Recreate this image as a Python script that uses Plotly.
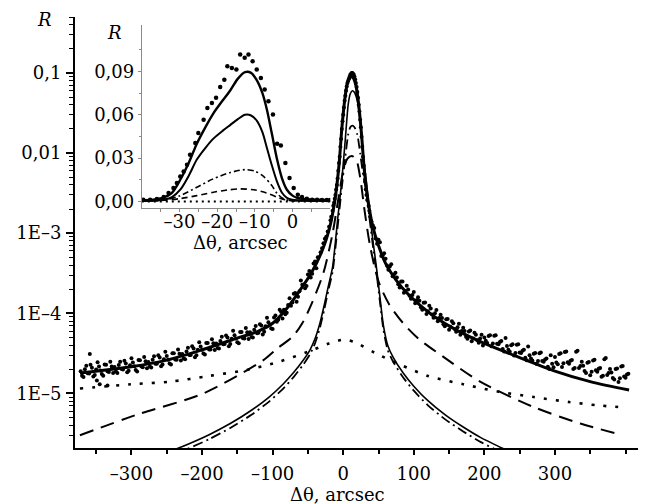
import plotly.graph_objects as go

# ---------------- main panel data (Δθ in arcsec, R) ----------------
exp_x = [-372, -368, -364, -360, -356, -352, -348, -344, -340, -336, -332, -328,
         -324, -320, -316, -312, -308, -304, -300, -296, -292, -288, -284, -280,
         -276, -272, -268, -264, -260, -256, -252, -248, -244, -240, -236, -232,
         -228, -224, -220, -216, -212, -208, -204, -200, -196, -192, -188, -184,
         -180, -176, -172, -168, -164, -160, -156, -152, -148, -144, -140, -136,
         -132, -128, -124, -120, -116, -112, -108, -104, -100, -96, -92, -88,
         -84, -80, -76, -72, -68, -64, -60, -56, -52, -48, -44, -40,
         -36, -32, -28, -24, -20, -17, -14, -12, -10, -8, -6, -4, -2, 0, 2, 4, 6, 8,
         10, 12, 14, 16, 18, 20, 22, 24, 26, 28, 30, 32, 34, 37, 40,
         44, 48, 52, 56, 60, 64, 68, 72, 76, 80, 84, 88, 92, 96, 100, 104,
         108, 112, 116, 120, 124, 128, 132, 136, 140, 144, 148, 152, 156, 160,
         164, 168, 172, 176, 180, 184, 188, 192, 196, 200, 204, 208, 212, 216,
         220, 224, 228, 232, 236, 240, 244, 248, 252, 256, 260, 264, 268, 272,
         276, 280, 284, 288, 292, 296, 300, 304, 308, 312, 316, 320, 324, 328,
         332, 336, 340, 344, 348, 352, 356, 360, 364, 368, 372, 376, 380, 384,
         388, 392, 396, 400, 404,
         -359, -345, -334, -349]
exp_r = [1.89e-5, 1.60e-5, 2.21e-5, 1.77e-5, 2.09e-5, 1.70e-5, 2.44e-5, 1.93e-5, 1.66e-5, 2.27e-5, 1.85e-5, 2.17e-5,
         2.13e-5, 1.80e-5, 2.48e-5, 1.99e-5, 2.36e-5, 1.92e-5, 2.75e-5, 2.18e-5, 1.88e-5, 2.59e-5, 2.12e-5, 2.51e-5,
         2.47e-5, 2.10e-5, 2.90e-5, 2.34e-5, 2.80e-5, 2.29e-5, 3.30e-5, 2.62e-5, 2.29e-5, 3.16e-5, 2.62e-5, 3.12e-5,
         3.11e-5, 2.67e-5, 3.72e-5, 3.01e-5, 3.64e-5, 3.00e-5, 4.36e-5, 3.50e-5, 3.06e-5, 4.24e-5, 3.52e-5, 4.21e-5,
         4.20e-5, 3.62e-5, 5.08e-5, 4.12e-5, 5.00e-5, 4.12e-5, 6.03e-5, 4.84e-5, 4.21e-5, 5.84e-5, 4.85e-5, 5.79e-5,
         5.78e-5, 4.97e-5, 6.96e-5, 5.70e-5, 7.02e-5, 5.90e-5, 8.78e-5, 7.17e-5, 6.38e-5, 9.40e-5, 8.28e-5, 1.048e-4,
         1.109e-4, 1.012e-4, 1.542e-4, 1.363e-4, 1.792e-4, 1.611e-4, 2.57e-4, 2.28e-4, 2.19e-4, 3.36e-4, 3.12e-4, 4.43e-4,
         5.0e-4, 5.8e-4, 7.5e-4, 9.0e-4, 1.2e-3, 1.6e-3, 2.2e-3, 2.7e-3, 3.5e-3, 4.8e-3, 7.5e-3, 1.2e-2, 2.0e-2, 3.0e-2, 4.5e-2, 6.0e-2, 7.5e-2, 8.5e-2,
         9.5e-2, 0.100, 0.098, 0.090, 0.075, 0.058, 0.040, 0.026, 0.016, 9.0e-3, 5.5e-3, 3.5e-3, 2.6e-3, 1.9e-3, 1.4e-3,
         1.16e-3, 7.4e-4, 7.7e-4, 5.3e-4, 4.8e-4, 3.5e-4, 4.1e-4, 3.05e-4, 2.8e-4, 2.1e-4, 2.5e-4, 1.9e-4, 1.98e-4, 1.52e-4, 1.85e-4, 1.45e-4,
         1.43e-4, 1.11e-4, 1.36e-4, 1.06e-4, 1.15e-4, 8.8e-5, 1.10e-4, 8.7e-5, 8.7e-5, 6.9e-5, 8.5e-5, 6.8e-5, 7.5e-5, 5.9e-5,
         7.4e-5, 6.0e-5, 6.0e-5, 4.8e-5, 6.1e-5, 4.85e-5, 5.4e-5, 4.3e-5, 5.4e-5, 5.0e-5, 4.26e-5, 5.3e-5, 4.2e-5, 5.3e-5,
         4.1e-5, 4.5e-5, 3.34e-5, 3.9e-5, 3.3e-5, 4.1e-5, 3.2e-5, 4.1e-5, 3.2e-5, 3.5e-5, 2.6e-5, 3.0e-5, 2.57e-5, 3.2e-5,
         2.53e-5, 3.23e-5, 2.48e-5, 2.72e-5, 2.02e-5, 2.35e-5, 2.85e-5, 2.31e-5, 3.17e-5, 2.38e-5, 3.33e-5, 2.34e-5, 2.61e-5, 2.07e-5,
         3.41e-5, 2.19e-5, 2.22e-5, 1.8e-5, 2.47e-5, 1.86e-5, 2.63e-5, 1.86e-5, 2.08e-5, 1.66e-5, 2.77e-5, 1.8e-5, 1.82e-5, 1.49e-5,
         2.05e-5, 1.55e-5, 2.2e-5, 1.57e-5, 1.76e-5,
         3.1e-5, 1.3e-5, 1.25e-5, 1.45e-5]

exp2_x = [-370, -366, -362, -358, -354, -350, -346, -342, -338, -334, -330, -326,
          -322, -318, -314, -310, -306, -302, -298, -294, -290, -286, -282, -278,
          -274, -270, -266, -262, -258, -254, -250, -246, -242, -238, -234, -230,
          -226, -222, -218, -214, -210, -206, -202, -198, -194, -190, -186, -182,
          -178, -174, -170, -166, -162, -158, -154, -150, -146, -142, -138, -134,
          -130, -126, -122, -118, -114, -110, -106, -102, -98, -94, -90, -86,
          -82, -78, -74, -70, -66, -62, -58, -54, -50, -46, -42, -38,
          -30, -26, -22, -18, -15, -13, -11, -9, -7, -5, -3, -1, 1, 3, 5, 7, 9, 11,
          13, 15, 17, 19, 21, 23, 25, 27, 29, 31, 33, 36, 38, 42,
          46, 50, 54, 58, 62, 66, 70, 74, 78, 82, 86, 90, 94, 98, 102, 106,
          110, 114, 118, 122, 126, 130, 134, 138, 142, 146, 150, 154, 158, 162,
          166, 170, 174, 178, 182, 186, 190, 194, 198, 202, 206, 210, 214, 218,
          222, 226, 230, 234, 238, 242, 246, 250, 254, 258, 262, 266, 270, 274,
          278, 282, 286, 290, 294, 298, 302, 306, 310, 314, 318, 322, 326, 330,
          334, 338, 342, 346, 350, 354, 358, 362, 366, 370, 374, 378, 382, 386,
          390, 394, 398, 402]
exp2_r = [1.66e-5, 2.00e-5, 1.78e-5, 2.27e-5, 1.63e-5, 1.98e-5, 2.16e-5, 1.74e-5, 2.30e-5, 1.89e-5, 2.49e-5, 1.79e-5,
          1.87e-5, 2.26e-5, 2.01e-5, 2.55e-5, 1.84e-5, 2.24e-5, 2.43e-5, 1.96e-5, 2.61e-5, 2.16e-5, 2.85e-5, 2.06e-5,
          2.16e-5, 2.63e-5, 2.35e-5, 3.00e-5, 2.18e-5, 2.67e-5, 2.92e-5, 2.36e-5, 3.17e-5, 2.64e-5, 3.53e-5, 2.57e-5,
          2.72e-5, 3.33e-5, 3.01e-5, 3.87e-5, 2.83e-5, 3.50e-5, 3.85e-5, 3.15e-5, 4.25e-5, 3.54e-5, 4.74e-5, 3.47e-5,
          3.68e-5, 4.52e-5, 4.10e-5, 5.29e-5, 3.88e-5, 4.81e-5, 5.32e-5, 4.36e-5, 5.84e-5, 4.88e-5, 6.53e-5, 4.77e-5,
          5.06e-5, 6.22e-5, 5.63e-5, 7.32e-5, 5.45e-5, 6.89e-5, 7.75e-5, 6.45e-5, 8.85e-5, 7.84e-5, 1.11e-4, 8.63e-5,
          9.72e-5, 1.265e-4, 1.246e-4, 1.75e-4, 1.39e-4, 1.88e-4, 2.27e-4, 2.05e-4, 3.04e-4, 2.80e-4, 4.19e-4, 3.65e-4,
          6.5e-4, 8.5e-4, 1.05e-3, 1.45e-3, 1.9e-3, 2.4e-3, 3.0e-3, 4.0e-3, 6.0e-3, 9.0e-3, 1.5e-2, 2.5e-2, 3.7e-2, 5.2e-2, 6.8e-2, 8.0e-2, 9.0e-2, 9.7e-2,
          0.100, 0.095, 0.083, 0.067, 0.049, 0.033, 0.021, 0.012, 7.0e-3, 4.4e-3, 3.0e-3, 2.2e-3, 1.6e-3, 1.25e-3,
          8.6e-4, 8.3e-4, 5.2e-4, 5.6e-4, 3.95e-4, 3.85e-4, 2.9e-4, 3.2e-4, 2.3e-4, 2.5e-4, 1.8e-4, 2.2e-4, 1.66e-4, 1.69e-4, 1.33e-4, 1.58e-4,
          1.19e-4, 1.35e-4, 9.8e-5, 1.24e-4, 9.65e-5, 1.0e-4, 7.95e-5, 9.56e-5, 7.3e-5, 8.4e-5, 6.25e-5, 7.98e-5, 6.35e-5, 6.68e-5,
          5.41e-5, 6.58e-5, 5.09e-5, 5.92e-5, 4.46e-5, 5.73e-5, 4.6e-5, 4.86e-5, 3.97e-5, 4.54e-5, 5.2e-5, 3.87e-5, 5.24e-5, 4.16e-5,
          4.38e-5, 3.57e-5, 4.92e-5, 3.5e-5, 4.0e-5, 2.98e-5, 4.06e-5, 3.23e-5, 3.41e-5, 2.78e-5, 3.84e-5, 2.73e-5, 3.13e-5, 2.33e-5,
          3.16e-5, 2.53e-5, 2.65e-5, 2.15e-5, 2.99e-5, 2.12e-5, 2.43e-5, 3.11e-5, 2.14e-5, 3.29e-5, 2.45e-5, 2.56e-5, 2.01e-5, 3.30e-5,
          2.07e-5, 2.48e-5, 1.90e-5, 2.41e-5, 1.68e-5, 2.58e-5, 1.94e-5, 2.03e-5, 1.61e-5, 2.67e-5, 1.69e-5, 2.01e-5, 1.56e-5, 2.01e-5,
          1.39e-5, 2.17e-5, 1.62e-5, 1.72e-5]

fit_x = [-373, -300, -250, -200, -150, -120, -100, -80, -61, -45, -30, -20, -12, -6, -2, 2, 6, 10, 12, 14,
         18, 22, 26, 30, 35, 42, 50, 60, 75, 90, 105, 130, 160, 200, 250, 300, 350, 405]
fit_r = [1.8e-5, 2.15e-5, 2.6e-5, 3.5e-5, 4.9e-5, 6.0e-5, 7.5e-5, 1.15e-4, 1.95e-4, 3.2e-4, 6.0e-4, 1.1e-3,
         2.5e-3, 7e-3, 0.02, 0.045, 0.075, 0.088, 0.09, 0.088, 0.07, 0.04, 0.017, 6e-3, 2.6e-3, 1.2e-3, 7e-4,
         4.2e-4, 2.6e-4, 1.8e-4, 1.35e-4, 9e-5, 6.2e-5, 4.2e-5, 2.8e-5, 1.9e-5, 1.4e-5, 1.1e-5]

coh_x = [-265, -248, -220, -190, -160, -130, -105, -85, -70, -57, -47, -40, -33, -27, -21, -15, -7.5, -2.3,
         3, 7, 10, 13, 16, 20, 24, 28, 33, 38, 43, 47, 52, 57, 63, 71, 85, 100, 120, 145, 170, 195, 220, 240]
coh_r = [1.63e-6, 1.85e-6, 2.32e-6, 3.05e-6, 4.2e-6, 6.15e-6, 9.0e-6, 1.31e-5, 1.83e-5, 2.57e-5, 3.5e-5,
         4.8e-5, 7.5e-5, 1.25e-4, 2.2e-4, 3.8e-4, 1.6e-3, 4.25e-3, 0.015, 0.04, 0.055, 0.06, 0.057, 0.045,
         0.025, 0.01, 4.25e-3, 1.6e-3, 7e-4, 3.8e-4, 1.6e-4, 7e-5, 4.0e-5, 2.8e-5, 1.8e-5, 1.23e-5, 8.1e-6,
         5.35e-6, 3.8e-6, 2.8e-6, 2.18e-6, 1.81e-6]

dd_x = coh_x
dd_r = [1.43e-6, 1.63e-6, 2.04e-6, 2.68e-6, 3.7e-6, 5.4e-6, 7.9e-6, 1.15e-5, 1.61e-5, 2.26e-5, 3.08e-5,
        4.2e-5, 6.6e-5, 1.1e-4, 1.94e-4, 3.3e-4, 1.3e-3, 3.5e-3, 9e-3, 0.017, 0.021, 0.022, 0.021, 0.017,
        0.01, 5.5e-3, 3.2e-3, 1.35e-3, 6e-4, 3.3e-4, 1.4e-4, 6.2e-5, 3.5e-5, 2.46e-5, 1.58e-5, 1.08e-5,
        7.1e-6, 4.7e-6, 3.35e-6, 2.46e-6, 1.92e-6, 1.6e-6]

dash_x = [-373, -293, -198, -113, -94, -71, -58, -45, -28, -15, -6, 0, 6, 12, 18, 24, 30, 38, 50, 65, 85,
          108, 141, 194, 269, 336, 390]
dash_r = [3.0e-6, 5.4e-6, 1.0e-5, 2.6e-5, 3.6e-5, 5.2e-5, 7.5e-5, 1.3e-4, 3.2e-4, 1.0e-3, 3e-3, 6e-3, 8.5e-3,
          9.2e-3, 8.5e-3, 5e-3, 2e-3, 7e-4, 2.5e-4, 1.3e-4, 7.5e-5, 4.7e-5, 2.9e-5, 1.4e-5, 6.8e-6,
          4.2e-6, 3.1e-6]

dot_x = [-373, -300, -245, -190, -132, -90, -50, -20, 2, 20, 45, 80, 120, 170, 220, 270, 320, 360, 395]
dot_r = [1.15e-5, 1.3e-5, 1.4e-5, 1.65e-5, 2.0e-5, 2.5e-5, 3.3e-5, 4.2e-5, 4.7e-5, 4.2e-5, 3.2e-5,
         2.3e-5, 1.65e-5, 1.3e-5, 1.05e-5, 9.0e-6, 7.8e-6, 7.1e-6, 6.7e-6]

# ---------------- inset data (linear scale) ----------------
in_exp_x = [-39.6, -37.8, -36.0, -34.2, -32.9, -31.6, -30.7, -29.8, -28.9, -28.0, -27.2, -25.8,
            -25.0, -23.6, -22.6, -21.4, -20.3, -19.2, -18.1, -17.3, -16.1, -14.9, -13.9, -12.7,
            -11.7, -10.6, -9.5, -8.4, -7.4, -6.4, -5.2, -4.1, -3.1, -1.9, -0.8, 0.3, 1.4, 2.5,
            3.8, 5.2, 6.5, 7.8, 9.1, 10.0]
in_exp_r = [0.0012, 0.0012, 0.0017, 0.0030, 0.0058, 0.0093, 0.0127, 0.0173, 0.0208, 0.0254, 0.0324,
            0.0405, 0.0474, 0.0566, 0.0647, 0.0682, 0.0717, 0.0793, 0.0843, 0.0936, 0.0924, 0.0913,
            0.1017, 0.0994, 0.1017, 0.0970, 0.0913, 0.0855, 0.0774, 0.0693, 0.0601, 0.0400, 0.0388,
            0.0266, 0.0162, 0.0093, 0.0046, 0.0030, 0.0019, 0.0012, 0.0012, 0.0010, 0.0010, 0.0010]

in_fit_x = [-40, -37, -34.3, -32, -29.8, -27.5, -25.4, -23, -21, -18.5, -16.5, -14.5, -12.6, -11, -9.5,
            -8, -6.8, -5.5, -4.1, -2.8, -1.5, 0, 1.2, 4, 10]
in_fit_r = [0.0008, 0.0012, 0.0026, 0.006, 0.015, 0.027, 0.040, 0.052, 0.061, 0.070, 0.077, 0.085,
            0.0895, 0.089, 0.084, 0.075, 0.0635, 0.047, 0.029, 0.016, 0.0081, 0.004, 0.0025, 0.0015, 0.001]

in_coh_x = [-40, -36, -34, -32, -29.8, -27.5, -25.4, -23, -21, -18.5, -16.5, -14.5, -12.6, -11, -9.5,
            -8, -6.8, -5.5, -4.1, -2.8, -1.5, 0, 3, 10]
in_coh_r = [0.0005, 0.0008, 0.0013, 0.003, 0.0081, 0.018, 0.029, 0.0375, 0.0435, 0.049, 0.053, 0.057,
            0.060, 0.0595, 0.056, 0.048, 0.037, 0.025, 0.0135, 0.006, 0.0025, 0.0012, 0.0007, 0.0005]

in_dd_x = [-40, -34, -29.8, -25.4, -21, -16.5, -12.6, -10, -7.7, -5.5, -4.1, -2.5, -1, 3, 10]
in_dd_r = [0.0003, 0.001, 0.004, 0.0098, 0.0157, 0.020, 0.022, 0.021, 0.0173, 0.011, 0.0055, 0.002,
           0.0007, 0.0003, 0.0002]

in_dash_x = [-40, -34, -29.8, -25.4, -21, -17, -14, -11, -9.5, -6.5, -4.1, -2, 0, 5, 10]
in_dash_r = [0.0002, 0.0008, 0.002, 0.004, 0.0064, 0.008, 0.0087, 0.0083, 0.0077, 0.0055, 0.003,
             0.0012, 0.0005, 0.0002, 0.0002]

in_dot_x = [-40, -20, -10, 0, 10]
in_dot_r = [4e-5, 4.5e-5, 5e-5, 4.5e-5, 4e-5]

# tick labels
x_major = [-300, -200, -100, 0, 100, 200, 300]
x_major_text = ["\u2013300", "\u2013200", "\u2013100", "0", "100", "200", "300"]
x_minor = [-350, -250, -150, -50, 50, 150, 250, 350, 400]
y_major = [1e-5, 1e-4, 1e-3, 1e-2, 1e-1]
y_major_text = ["1E\u20135", "1E\u20134", "1E\u20133", "0,01", "0,1"]
y_minor = [m * 10.0 ** e for e in range(-6, 0) for m in range(2, 10) if 2.08e-6 <= m * 10.0 ** e <= 0.5]
ix_major = [-30, -20, -10, 0]
ix_major_text = ["\u201330", "\u201320", "\u201310", "0"]
ix_minor = [-35, -25, -15, -5, 5]
iy_major = [0.0, 0.03, 0.06, 0.09]
iy_major_text = ["0,00", "0,03", "0,06", "0,09"]
iy_minor = [0.015, 0.045, 0.075, 0.105]

FONT = "DejaVu Serif"
FS = 18
fig = go.Figure()

# main panel
fig.add_trace(go.Scatter(x=exp_x, y=exp_r, mode="markers", marker=dict(color="black", size=4)))
fig.add_trace(go.Scatter(x=exp2_x, y=exp2_r, mode="markers", marker=dict(color="black", size=4)))
fig.add_trace(go.Scatter(x=dot_x, y=dot_r, mode="lines", line=dict(color="black", width=2.6, dash="3px,9px", shape="spline", smoothing=0.8)))
fig.add_trace(go.Scatter(x=dash_x, y=dash_r, mode="lines", line=dict(color="black", width=2, dash="14px,8px", shape="spline", smoothing=0.8)))
fig.add_trace(go.Scatter(x=dd_x, y=dd_r, mode="lines", line=dict(color="black", width=1.8, dash="10px,4px,2px,4px", shape="spline", smoothing=0.6)))
fig.add_trace(go.Scatter(x=coh_x, y=coh_r, mode="lines", line=dict(color="black", width=1.6, shape="spline", smoothing=0.6)))
fig.add_trace(go.Scatter(x=fit_x, y=fit_r, mode="lines", line=dict(color="black", width=3, shape="spline", smoothing=0.8)))

# inset
fig.add_trace(go.Scatter(x=in_exp_x, y=in_exp_r, mode="markers", marker=dict(color="black", size=4.5), xaxis="x2", yaxis="y2"))
fig.add_trace(go.Scatter(x=in_dot_x, y=in_dot_r, mode="lines", line=dict(color="black", width=2, dash="2px,4px"), xaxis="x2", yaxis="y2"))
fig.add_trace(go.Scatter(x=in_dash_x, y=in_dash_r, mode="lines", line=dict(color="black", width=1.6, dash="6px,4px", shape="spline", smoothing=0.8), xaxis="x2", yaxis="y2"))
fig.add_trace(go.Scatter(x=in_dd_x, y=in_dd_r, mode="lines", line=dict(color="black", width=1.6, dash="6px,3px,2px,3px", shape="spline", smoothing=0.8), xaxis="x2", yaxis="y2"))
fig.add_trace(go.Scatter(x=in_coh_x, y=in_coh_r, mode="lines", line=dict(color="black", width=2, shape="spline", smoothing=0.8), xaxis="x2", yaxis="y2"))
fig.add_trace(go.Scatter(x=in_fit_x, y=in_fit_r, mode="lines", line=dict(color="black", width=2.4, shape="spline", smoothing=0.8), xaxis="x2", yaxis="y2"))

# the page body adds an 8px margin, so the figure is 8px smaller on each side
fig.update_layout(
    width=638, height=496, showlegend=False,
    paper_bgcolor="white", plot_bgcolor="white",
    margin=dict(l=67, r=0, t=9, b=56),
    font=dict(family=FONT, size=FS, color="black"),
    xaxis=dict(domain=[0, 1], range=[-380, 429], showgrid=False, zeroline=False,
               showline=True, linecolor="black", linewidth=2,
               tickmode="array", tickvals=x_major, ticktext=x_major_text,
               ticks="outside", ticklen=5, tickwidth=1.6, tickcolor="black",
               ticklabelstandoff=3,
               minor=dict(tickmode="array", tickvals=x_minor, ticks="outside", ticklen=4,
                          tickwidth=1.6, tickcolor="black", showgrid=False)),
    yaxis=dict(domain=[0, 1], type="log", range=[-5.682, -0.301], showgrid=False, zeroline=False,
               showline=True, linecolor="black", linewidth=2,
               tickmode="array", tickvals=y_major, ticktext=y_major_text,
               ticks="outside", ticklen=7, tickwidth=1.6, tickcolor="black", ticklabelstandoff=1,
               minor=dict(tickmode="array", tickvals=y_minor, ticks="outside", ticklen=4,
                          tickwidth=1.2, tickcolor="black", showgrid=False)),
    xaxis2=dict(domain=[0.117, 0.447], anchor="y2", range=[-40, 10], showgrid=False, zeroline=False,
                showline=True, linecolor="#8a8a8a", linewidth=1,
                tickmode="array", tickvals=ix_major, ticktext=ix_major_text,
                ticks="outside", ticklen=3, tickwidth=1, tickcolor="#8a8a8a", ticklabelstandoff=-6,
                minor=dict(tickmode="array", tickvals=ix_minor, ticks="outside", ticklen=3,
                           tickwidth=1, tickcolor="#8a8a8a", showgrid=False)),
    yaxis2=dict(domain=[0.557, 0.981], anchor="x2", range=[-0.0045, 0.122], showgrid=False, zeroline=False,
                showline=True, linecolor="#8a8a8a", linewidth=1,
                tickmode="array", tickvals=iy_major, ticktext=iy_major_text,
                ticks="outside", ticklen=3, tickwidth=1, tickcolor="#8a8a8a", ticklabelstandoff=0,
                minor=dict(tickmode="array", tickvals=iy_minor, ticks="outside", ticklen=2,
                           tickwidth=1, tickcolor="#8a8a8a", showgrid=False)),
)

ann_font = dict(family=FONT, size=FS, color="black")
fig.add_annotation(text="<i>R</i>", xref="paper", yref="paper", x=-0.053, y=0.995,
                   xanchor="center", yanchor="middle", showarrow=False, font=ann_font)
fig.add_annotation(text="\u0394\u03b8, arcsec", xref="paper", yref="paper", x=0.46, y=-0.107,
                   xanchor="center", yanchor="middle", showarrow=False, font=ann_font)
fig.add_annotation(text="<i>R</i>", xref="paper", yref="paper", x=0.070, y=0.963,
                   xanchor="center", yanchor="middle", showarrow=False, font=ann_font)
fig.add_annotation(text="\u0394\u03b8, arcsec", xref="paper", yref="paper", x=0.289, y=0.477,
                   xanchor="center", yanchor="middle", showarrow=False, font=ann_font)

fig.write_html("out.html")
